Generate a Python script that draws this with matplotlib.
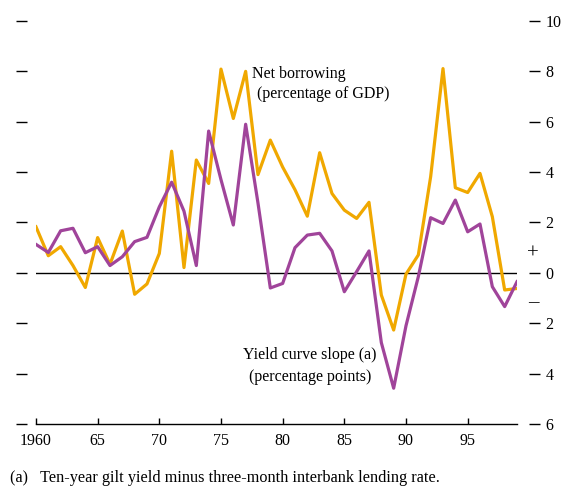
"""
Net borrowing vs yield curve slope, 1960-99
"""
import matplotlib
matplotlib.use('Agg')
import matplotlib.pyplot as plt
import numpy as np

years = np.arange(1960, 2000)

# net borrowing (percentage of GDP)
net_borrowing = [1.83, 0.68, 1.04, 0.29, -0.58, 1.40, 0.34, 1.66, -0.85, -0.44,
                 0.77, 4.83, 0.21, 4.48, 3.55, 8.09, 6.13, 8.0, 3.9, 5.27,
                 4.2, 3.3, 2.25, 4.77, 3.15, 2.49, 2.16, 2.8, -0.88, -2.27,
                 -0.05, 0.71, 3.82, 8.11, 3.38, 3.19, 3.95, 2.23, -0.68, -0.62]

# yield curve slope (percentage points)
yield_slope = [1.13, 0.81, 1.67, 1.77, 0.80, 1.04, 0.29, 0.64, 1.24, 1.41,
               2.62, 3.6, 2.45, 0.29, 5.63, 3.7, 1.9, 5.9, 2.77, -0.6,
               -0.42, 1.0, 1.5, 1.57, 0.87, -0.75, 0.05, 0.87, -2.77, -4.58,
               -2.1, -0.15, 2.19, 1.96, 2.89, 1.63, 1.94, -0.55, -1.34, -0.35]

yticks = [10, 8, 6, 4, 2, 0, -2, -4, -6]
xticks = [1960, 1965, 1970, 1975, 1980, 1985, 1990, 1995]
xlabels = ['1960', '65', '70', '75', '80', '85', '90', '95']

plt.rcParams['font.family'] = ['Liberation Serif', 'DejaVu Serif']
plt.rcParams['font.size'] = 11.5

fig = plt.figure(figsize=(5.63, 4.87), dpi=100)
ax = fig.add_axes([0.0639, 0.1294, 0.8544, 0.8275])

ax.axhline(0, color='black', lw=1.0, zorder=1)
ax.plot(years, net_borrowing, color='#F0A800', lw=2.3, zorder=2)
ax.plot(years, yield_slope, color='#A0449A', lw=2.3, zorder=3)

ax.set_xlim(1960, 1999)
ax.set_ylim(-6, 10)

# spines
for s in ['top', 'left', 'right']:
    ax.spines[s].set_visible(False)
ax.spines['bottom'].set_linewidth(1.0)
ax.spines['left'].set_position(('outward', 6.5))
ax.spines['right'].set_position(('outward', 8.6))

ax.set_xticks(xticks)
ax.set_xticklabels(xlabels)
ax.tick_params(axis='x', direction='in', length=4.5, width=1.0, pad=6.5, labelsize=11.5)

ax.set_yticks(yticks)
ax.set_yticklabels([str(abs(v)) for v in yticks])
ax.tick_params(axis='y', direction='out', length=8, width=1.0,
               left=True, right=True, labelleft=False, labelright=True,
               pad=4, labelsize=11.5)

# sign markers beside the right axis
ax.text(1.0335, 0.75 / 16 + 6 / 16, '+', transform=ax.transAxes, ha='center',
        va='center', fontsize=15)
ax.text(1.0335, -1.2 / 16 + 6 / 16, '\u2013', transform=ax.transAxes, ha='center',
        va='center', fontsize=15)

ax.text(1977.5, 7.9, 'Net borrowing', ha='left', va='center', fontsize=11.5)
ax.text(1977.9, 7.1, '(percentage of GDP)', ha='left', va='center', fontsize=11.5)
ax.text(1982.2, -3.28, 'Yield curve slope (a)', ha='center', va='center', fontsize=11.5)
ax.text(1982.2, -4.13, '(percentage points)', ha='center', va='center', fontsize=11.5)

fig.text(0.018, 0.011, '(a)   Ten-year gilt yield minus three-month interbank lending rate.',
         ha='left', va='baseline', fontsize=11.7)

fig.savefig('out.png', dpi=100)
